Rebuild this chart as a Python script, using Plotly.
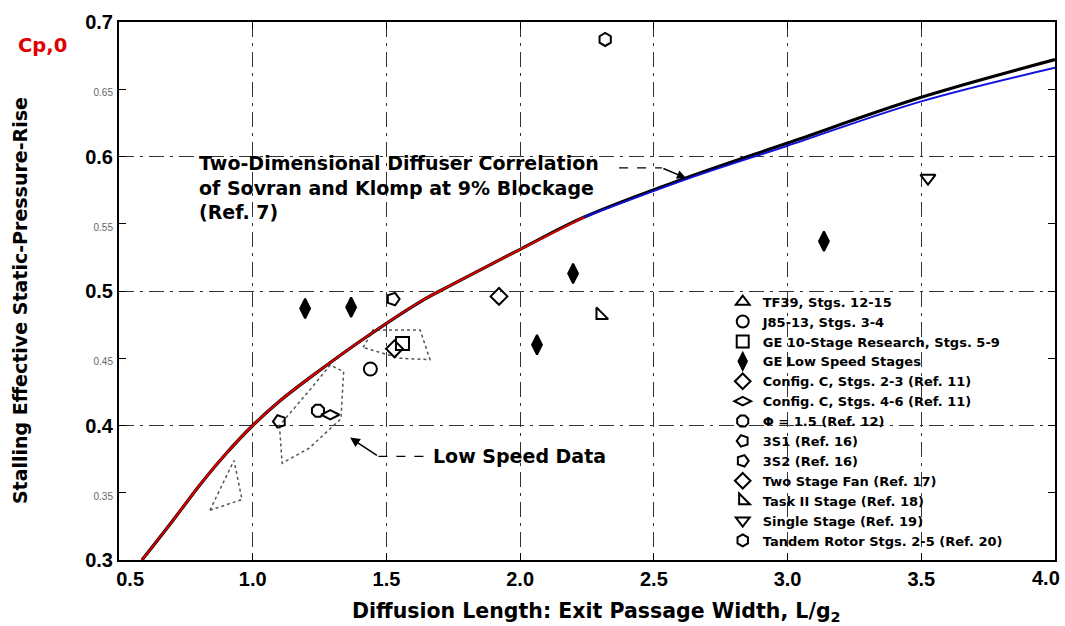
import plotly.graph_objects as go

# ---------------- data ----------------
# Sovran & Klomp correlation curve (black)
curve_x = [0.586, 0.70, 0.803, 0.90, 1.0, 1.10, 1.23, 1.426, 1.626, 1.738, 2.0, 2.24, 2.62, 3.0, 3.5, 4.0]
curve_y = [0.300, 0.329, 0.356, 0.379, 0.400, 0.418, 0.438, 0.466, 0.492, 0.504, 0.531, 0.555, 0.584, 0.610, 0.644, 0.672]
# red overlay (lower part)
red_x = [0.586, 0.70, 0.803, 0.90, 1.0, 1.10, 1.23, 1.426, 1.626, 1.738, 2.0, 2.24]
red_y = [0.300, 0.329, 0.356, 0.379, 0.400, 0.418, 0.438, 0.466, 0.492, 0.504, 0.531, 0.555]
# blue overlay (upper part)
blue_x = [2.24, 2.62, 3.0, 3.5, 4.0]
blue_y = [0.555, 0.583, 0.608, 0.641, 0.666]

# marker series
series_names = [
    "TF39, Stgs. 12-15",
    "J85-13, Stgs. 3-4",
    "GE 10-Stage Research, Stgs. 5-9",
    "GE Low Speed Stages",
    "Config. C, Stgs. 2-3 (Ref. 11)",
    "Config. C, Stgs. 4-6 (Ref. 11)",
    "Φ = 1.5 (Ref. 12)",
    "3S1 (Ref. 16)",
    "3S2 (Ref. 16)",
    "Two Stage Fan (Ref. 17)",
    "Task II Stage (Ref. 18)",
    "Single Stage (Ref. 19)",
    "Tandem Rotor Stgs. 2-5 (Ref. 20)",
]
tf39_x, tf39_y = [None], [None]
j85_x, j85_y = [1.44], [0.442]
ge10_x, ge10_y = [1.56], [0.461]
gels_x, gels_y = [1.196, 1.368, 2.063, 2.198, 3.136], [0.487, 0.488, 0.460, 0.513, 0.537]
cc23_x, cc23_y = [1.53], [0.457]
cc46_x, cc46_y = [1.29], [0.408]
phi_x, phi_y = [1.244], [0.411]
s31_x, s31_y = [1.10], [0.403]
s32_x, s32_y = [1.525], [0.494]
fan_x, fan_y = [1.921], [0.496]
task_x, task_y = [2.30], [0.482]
single_x, single_y = [3.525], [0.584]
tandem_x, tandem_y = [2.318], [0.687]

# stippled "Low Speed Data" regions (outlines)
lsA_x = [0.84, 0.96, 0.93, 0.84]
lsA_y = [0.337, 0.345, 0.374, 0.337]
lsB_x = [1.10, 1.11, 1.21, 1.33, 1.34, 1.29, 1.22, 1.10]
lsB_y = [0.400, 0.372, 0.383, 0.405, 0.440, 0.445, 0.428, 0.400]
lsC_x = [1.413, 1.45, 1.626, 1.663, 1.55, 1.413]
lsC_y = [0.458, 0.471, 0.471, 0.449, 0.450, 0.458]

x_ticks = [0.5, 1.0, 1.5, 2.0, 2.5, 3.0, 3.5, 4.0]
x_ticktext = ["\u00a0\u00a0\u00a0\u00a00.5", "1.0", "1.5", "2.0", "2.5", "3.0", "3.5", ""]
x_last_label = "4.0"   # drawn right-aligned so it stays inside the page
y_ticks = [0.3, 0.35, 0.4, 0.45, 0.5, 0.55, 0.6, 0.65, 0.7]
y_major = {0.3: "0.3", 0.4: "0.4", 0.5: "0.5", 0.6: "0.6", 0.7: "0.7"}
y_grid = [0.4, 0.5, 0.6]

FONT = "Liberation Sans"
WIDE = "DejaVu Sans"

fig = go.Figure()

# stippled regions
for xs, ys in [(lsA_x, lsA_y), (lsB_x, lsB_y), (lsC_x, lsC_y)]:
    fig.add_trace(go.Scatter(x=xs, y=ys, mode="lines", showlegend=False, hoverinfo="skip",
                             line=dict(color="#555555", width=1.5, dash="dot")))

# curves
fig.add_trace(go.Scatter(x=curve_x, y=curve_y, mode="lines", showlegend=False,
                         line=dict(color="black", width=3.2, shape="spline", smoothing=1.0)))
fig.add_trace(go.Scatter(x=red_x, y=red_y, mode="lines", showlegend=False,
                         line=dict(color="#e00000", width=2, shape="spline", smoothing=1.0)))
fig.add_trace(go.Scatter(x=blue_x, y=blue_y, mode="lines", showlegend=False,
                         line=dict(color="#1010e0", width=2, shape="spline", smoothing=1.0)))

series = [
    (tf39_x, tf39_y, "triangle-up-open", 0),
    (j85_x, j85_y, "circle-open", 0),
    (ge10_x, ge10_y, "square-open", 0),
    (gels_x, gels_y, "diamond-tall", 0),
    (cc23_x, cc23_y, "diamond-open", 0),
    (cc46_x, cc46_y, "diamond-wide-open", 0),
    (phi_x, phi_y, "octagon-open", 0),
    (s31_x, s31_y, "pentagon-open", -90),
    (s32_x, s32_y, "pentagon-open", 90),
    (fan_x, fan_y, "diamond-open", 0),
    (task_x, task_y, "triangle-sw-open", 0),
    (single_x, single_y, "triangle-down-open", 0),
    (tandem_x, tandem_y, "hexagon-open", 0),
]
for (xs, ys, sym, ang), name in zip(series, series_names):
    size = 14 if sym == "diamond-tall" else 13
    fig.add_trace(go.Scatter(
        x=xs, y=ys, mode="markers", name=name,
        marker=dict(symbol=sym, size=size, angle=ang, color="black",
                    line=dict(color="black", width=2)),
    ))

# annotations
fig.add_annotation(x=0.79, y=0.6045, xref="x", yref="y", xanchor="left", yanchor="top",
                   text="<b>Two-Dimensional Diffuser Correlation<br>of Sovran and Klomp at 9% Blockage<br>(Ref. 7)</b>",
                   showarrow=False, align="left", font=dict(family=WIDE, size=19, color="black"))
fig.add_shape(type="line", x0=2.37, x1=2.53, y0=0.5915, y1=0.5915, xref="x", yref="y",
              line=dict(color="black", width=1.2, dash="dash"))
fig.add_annotation(x=2.62, y=0.584, ax=2.53, ay=0.5915, axref="x", ayref="y", xref="x", yref="y",
                   text="", showarrow=True, arrowhead=2, arrowsize=1.2, arrowwidth=1.5, arrowcolor="black")

fig.add_annotation(x=1.665, y=0.377, xref="x", yref="y", xanchor="left", yanchor="middle",
                   text="<b>Low Speed Data</b>", showarrow=False,
                   font=dict(family=WIDE, size=19, color="black"))
fig.add_shape(type="line", x0=1.47, x1=1.645, y0=0.377, y1=0.377, xref="x", yref="y",
              line=dict(color="black", width=1.2, dash="dash"))
fig.add_annotation(x=1.364, y=0.391, ax=1.47, ay=0.377, axref="x", ayref="y", xref="x", yref="y",
                   text="", showarrow=True, arrowhead=2, arrowsize=1.3, arrowwidth=1.5, arrowcolor="black")

fig.add_annotation(x=1.0, y=-0.0335, xref="paper", yref="paper", xanchor="right", yanchor="middle",
                   xshift=7, text=f"<b>{x_last_label}</b>", showarrow=False,
                   font=dict(family=FONT, size=20, color="black"))

fig.add_annotation(x=-0.082, y=0.957, xref="paper", yref="paper", xanchor="center", yanchor="middle",
                   text="<b>Cp,0</b>",
                   showarrow=False, font=dict(family=WIDE, size=19.5, color="#e00000"))
fig.add_annotation(x=-0.1058, y=0.483, xref="paper", yref="paper", xanchor="center", yanchor="middle",
                   textangle=-90,
                   text="<b>Stalling Effective Static-Pressure-Rise</b>",
                   showarrow=False, font=dict(family=WIDE, size=19, color="black"))
fig.add_annotation(x=0.51, y=-0.097, xref="paper", yref="paper", xanchor="center", yanchor="middle",
                   text="<b>Diffusion Length: Exit Passage Width, L/g<sub>2</sub></b>",
                   showarrow=False, font=dict(family=WIDE, size=20.5, color="black"))

y_ticktext = [f"<b>{y_major[v]}</b>" if v in y_major else
              f"<span style='font-size:10px;color:#666666;font-weight:normal'>{v:.2f}</span>" for v in y_ticks]

fig.update_layout(
    width=1065, height=626,
    margin=dict(l=119, r=10, t=22, b=66, autoexpand=False),
    paper_bgcolor="white", plot_bgcolor="white",
    font=dict(family=FONT, color="black"),
    xaxis=dict(range=[0.5, 4.0], tickvals=x_ticks, ticktext=x_ticktext,
               tickfont=dict(size=20, family=FONT, color="black", weight="bold"),
               automargin=False,
               showline=True, linecolor="black", linewidth=2, mirror="allticks",
               ticks="inside", ticklen=7, tickcolor="black",
               showgrid=True, gridcolor="#333333", gridwidth=1, griddash="longdashdot",
               zeroline=False),
    yaxis=dict(range=[0.3, 0.7], tickvals=y_ticks, ticktext=y_ticktext,
               tickfont=dict(size=20, family=FONT, color="black", weight="bold"),
               automargin=False,
               showline=True, linecolor="black", linewidth=2, mirror="allticks",
               ticks="inside", ticklen=7, tickcolor="black",
               showgrid=False, zeroline=False,
               minor=dict(tickmode="array", tickvals=y_grid, showgrid=True, gridcolor="#333333",
                          gridwidth=1, griddash="longdashdot", ticklen=0)),
    legend=dict(x=0.645, y=0.508, xanchor="left", yanchor="top",
                bgcolor="rgba(0,0,0,0)", borderwidth=0,
                font=dict(family=WIDE, size=13, color="black", weight="bold"),
                itemsizing="constant"),
)

fig.write_html("out.html")
